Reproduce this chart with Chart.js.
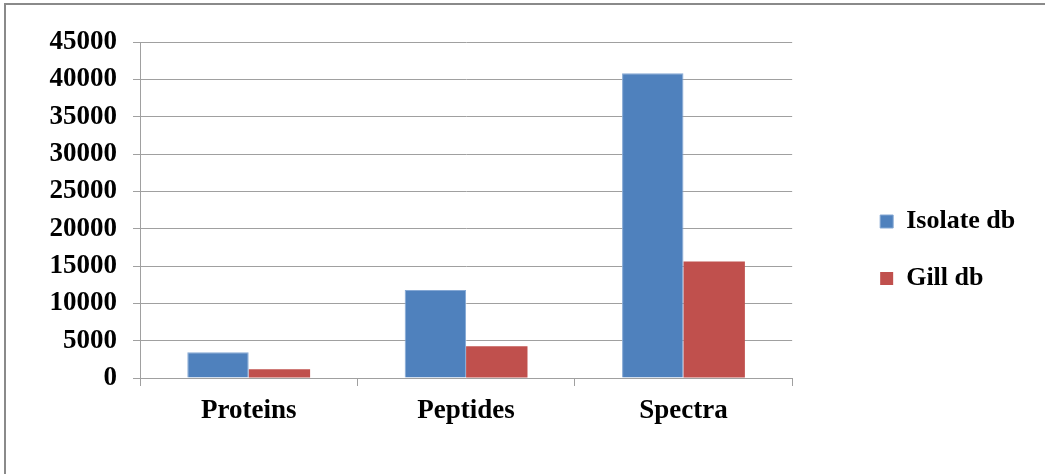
<!DOCTYPE html>
<html>
<head>
<meta charset="utf-8">
<script src="https://cdn.jsdelivr.net/npm/chart.js@4/dist/chart.umd.min.js"></script>
<style>
  html, body { margin: 0; padding: 0; background: #ffffff; overflow: hidden; }
  #frame {
    position: absolute; left: 4px; top: 3px; width: 2000px; height: 2000px;
    border-left: 2px solid #8a8a8a; border-top: 2px solid #8a8a8a;
  }
  #chart { position: absolute; left: 0; top: 0; }
</style>
</head>
<body>
<div id="frame"></div>
<canvas id="chart" width="1045" height="474"></canvas>
<script>
// Categories and series
const categories = ['Proteins', 'Peptides', 'Spectra'];
const isolateDb = [3450, 11800, 40800];
const gillDb = [1170, 4250, 15600];
const seriesNames = ['Isolate db', 'Gill db'];
const yTicks = [0, 5000, 10000, 15000, 20000, 25000, 30000, 35000, 40000, 45000];

const serif = "'Liberation Serif', 'Times New Roman', serif";
const axisFont = { family: serif, size: 27, weight: 'bold' };
const legendFont = { family: serif, size: 26, weight: 'bold' };
const gridGray = '#a0a0a0';

new Chart(document.getElementById('chart'), {
  type: 'bar',
  data: {
    labels: categories,
    datasets: [
      { label: seriesNames[0], data: isolateDb, backgroundColor: '#4f81bd', borderColor: '#85a8d4', borderWidth: 1 },
      { label: seriesNames[1], data: gillDb, backgroundColor: '#c0504d', borderColor: '#c0504d', borderWidth: 0 }
    ]
  },
  options: {
    responsive: false,
    animation: false,
    devicePixelRatio: 1,
    layout: { padding: { left: 10, top: 42, right: 28, bottom: 16 } },
    datasets: { bar: { barPercentage: 1.0, categoryPercentage: 0.565 } },
    plugins: {
      tooltip: { enabled: false },
      legend: {
        position: 'right',
        labels: {
          font: legendFont,
          color: '#000000',
          boxWidth: 13,
          boxHeight: 13,
          padding: 31
        }
      }
    },
    scales: {
      x: {
        grid: { display: true, drawOnChartArea: false, drawTicks: true, tickLength: 8, color: gridGray, offset: true },
        border: { display: true, color: gridGray, width: 1 },
        ticks: { font: axisFont, color: '#000000', padding: 9, maxRotation: 0 },
        afterFit(scale) { scale.height = 80; }
      },
      y: {
        min: yTicks[0],
        max: yTicks[yTicks.length - 1],
        afterBuildTicks(scale) { scale.ticks = yTicks.map(v => ({ value: v })); },
        grid: { color: gridGray, lineWidth: 1, tickLength: 7, drawTicks: true },
        border: { display: true, color: gridGray, width: 1 },
        ticks: { font: axisFont, color: '#000000', padding: 16, callback: v => String(v) },
        afterFit(scale) { scale.width = 130; }
      },
      gap: {
        position: 'right',
        display: true,
        grid: { display: false },
        border: { display: false },
        ticks: { display: false },
        afterFit(scale) { scale.width = 57; }
      }
    }
  }
});
</script>
</body>
</html>
